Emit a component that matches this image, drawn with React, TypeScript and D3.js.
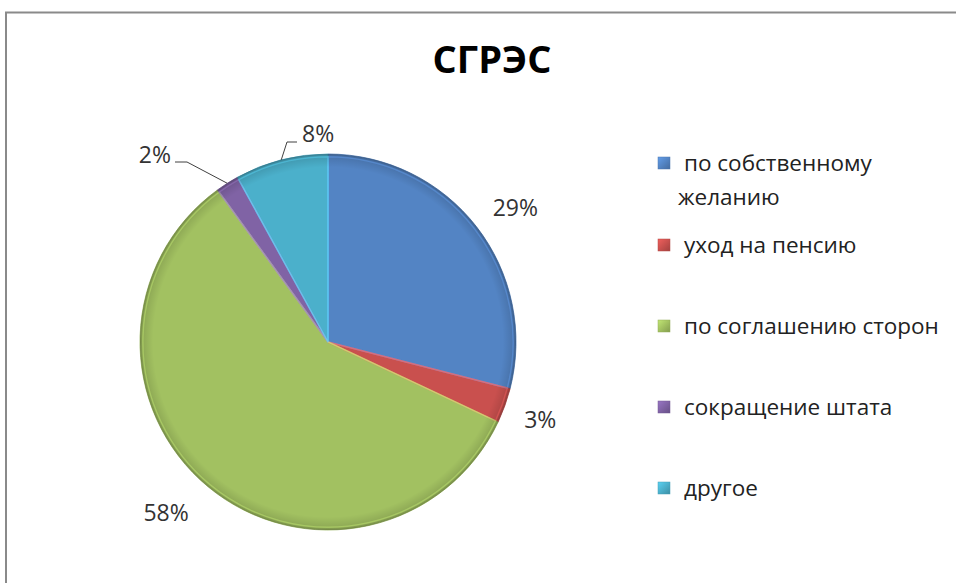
import React from "react";
import * as d3 from "d3";

const categories = ["по собственному желанию", "уход на пенсию", "по соглашению сторон", "сокращение штата", "другое"];
const legendLines = [["по собственному", "желанию"], ["уход на пенсию"], ["по соглашению сторон"], ["сокращение штата"], ["другое"]];
const values = [29, 3, 58, 2, 8];
const labels = ["29%", "3%", "58%", "2%", "8%"];
const colors = ["#5384c4", "#c9504e", "#a2c161", "#8063a5", "#4bb0cb"];
const title = "СГРЭС";

const W = 956, H = 583;
const cx = 328, cy = 342, R = 188;
const FONT = "'Open Sans', sans-serif";

export default function App() {
  const pie = d3.pie<number>().sort(null).value((d) => d);
  const arcs = pie(values);
  const arc = d3.arc<d3.PieArcDatum<number>>().innerRadius(0).outerRadius(R);
  const labelArc = d3.arc<d3.PieArcDatum<number>>().innerRadius(232).outerRadius(232);
  const nudges: [number, number][] = [[4, 8], [-6, -1], [-14, -8], [0, 0], [0, 0]];
  const legendY = [163, 245, 326, 407, 488];
  const pt = (a: number, r: number): [number, number] => [Math.sin(a) * r, -Math.cos(a) * r];

  return (
    <svg width={W} height={H} style={{ position: "absolute", left: 0, top: 0 }} xmlns="http://www.w3.org/2000/svg">
      <defs>
        <radialGradient id="rim" cx="0" cy="0" r={R} gradientUnits="userSpaceOnUse">
          <stop offset="0.93" stopColor="#000" stopOpacity="0" />
          <stop offset="0.985" stopColor="#000" stopOpacity="0.12" />
          <stop offset="1" stopColor="#000" stopOpacity="0.28" />
        </radialGradient>
        {colors.map((c, i) => (
          <linearGradient key={i} id={`lg${i}`} x1="0" y1="0" x2="1" y2="1">
            <stop offset="0" stopColor={d3.color(c)!.brighter(0.5).formatHex()} />
            <stop offset="1" stopColor={d3.color(c)!.darker(0.6).formatHex()} />
          </linearGradient>
        ))}
      </defs>
      <rect x={0} y={0} width={W} height={H} fill="#fff" />
      <path d={`M6,${H} V12.5 H${W}`} fill="none" stroke="#8a8a8a" strokeWidth={2} />
      <text x={492} y={73} textAnchor="middle" fontFamily={FONT} fontWeight="bold" fontSize={38} fill="#000">{title}</text>
      <g transform={`translate(${cx},${cy})`}>
        {arcs.map((a, i) => (
          <path key={i} d={arc(a)!} fill={colors[i]} stroke={d3.color(colors[i])!.darker(0.25).formatHex()} strokeWidth={0.8} />
        ))}
        {arcs.map((a, i) => (
          <path key={`h${i}`} d={arc(a)!} fill="none" stroke={d3.color(colors[i])!.brighter(0.6).formatHex()} strokeWidth={1.5} transform="scale(0.985)" strokeOpacity={0.7} />
        ))}
        <circle r={R} fill="url(#rim)" />
        {arcs.map((a, i) => {
          if (i === 3) {
            const m = (a.startAngle + a.endAngle) / 2;
            const [x0, y0] = pt(m, R);
            return (
              <g key={`l${i}`}>
                <polyline points={`${x0},${y0} ${-141},${-180} ${-153},${-180}`} fill="none" stroke="#404040" strokeWidth={1} />
                <text x={-157} y={-179} textAnchor="end" fontFamily={FONT} fontSize={23} fill="#333">{labels[i]}</text>
              </g>
            );
          }
          if (i === 4) {
            const m = (a.startAngle + a.endAngle) / 2;
            const [x0, y0] = pt(m, R);
            return (
              <g key={`l${i}`}>
                <polyline points={`${x0},${y0} ${-41},${-200} ${-31},${-200}`} fill="none" stroke="#404040" strokeWidth={1} />
                <text x={-26} y={-200} textAnchor="start" fontFamily={FONT} fontSize={23} fill="#333">{labels[i]}</text>
              </g>
            );
          }
          const [lx, ly] = labelArc.centroid(a);
          return (
            <text key={`l${i}`} x={lx + nudges[i][0]} y={ly + nudges[i][1]} dy="0.35em" textAnchor="middle" fontFamily={FONT} fontSize={23} fill="#333">{labels[i]}</text>
          );
        })}
      </g>
      <g>
        {categories.map((c, i) => (
          <g key={c} transform={`translate(658,${legendY[i]})`}>
            <rect x={0} y={-6} width={12} height={12} fill={`url(#lg${i})`} stroke={d3.color(colors[i])!.darker(0.3).formatHex()} strokeWidth={0.5} />
            {legendLines[i].map((t, j) => (
              <text key={j} x={j === 0 ? 26 : 20} y={j * 34} dy="0.35em" fontFamily={FONT} fontSize={22.5} fill="#222">{t}</text>
            ))}
          </g>
        ))}
      </g>
    </svg>
  );
}
